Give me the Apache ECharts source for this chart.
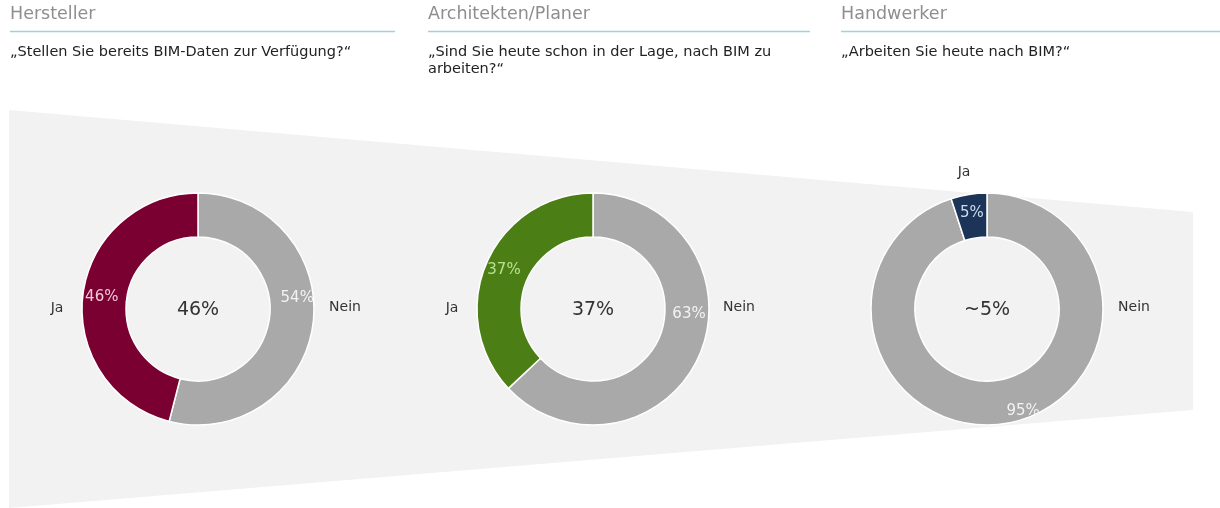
<!DOCTYPE html>
<html><head><meta charset="utf-8">
<script src="https://cdn.jsdelivr.net/npm/echarts@6/dist/echarts.min.js"></script>
<style>html,body{margin:0;padding:0;background:#fff}#c{width:1220px;height:508px}</style>
</head><body><div id="c"></div>
<script>
const groups = ['Hersteller', 'Architekten/Planer', 'Handwerker'];
const questions = ['„Stellen Sie bereits BIM-Daten zur Verfügung?“', '„Sind Sie heute schon in der Lage, nach BIM zu arbeiten?“', '„Arbeiten Sie heute nach BIM?“'];
const categories = ['Nein', 'Ja'];
const neinValues = [54, 63, 95];
const jaValues = [46, 37, 5];
const centerLabels = ['46%', '37%', '~5%'];
const jaColors = ['#7b0032', '#4b7f16', '#1b3457'];
const jaLabelColors = ['#f1c9d6', '#b8e08e', '#cfdcf0'];

const FONT = 'DejaVu Sans';
const centersX = [198, 593, 987];
const cy = 309;
const headX = [10, 428, 841];
const headEnd = [395, 810, 1220];
const neinOffsets = [[3, -23], [7, -33], [21, 6]];
const jaPos = [[57, 308], [452, 308], [964, 172]];
const neinPos = [[345, 307], [739, 307], [1134, 307]];

const chart = echarts.init(document.getElementById('c'), null, {renderer: 'canvas'});
const graphic = [{
  type: 'polygon', z: -10,
  shape: {points: [[9, 110], [1193, 212], [1193, 410], [9, 508]]},
  style: {fill: '#f2f2f2'}
}];
const series = [];
groups.forEach((g, i) => {
  graphic.push({type: 'text', x: headX[i], y: 5, style: {text: g, font: '17.5px ' + FONT, fill: '#8e8e8e'}});
  graphic.push({type: 'line', shape: {x1: headX[i], y1: 31.5, x2: headEnd[i], y2: 31.5}, style: {stroke: '#9cd2e2', lineWidth: 1.5}});
  graphic.push({type: 'text', x: headX[i], y: 44, style: {text: questions[i], font: '14.5px ' + FONT, fill: '#222', width: 388, overflow: 'break', lineHeight: 16.5}});
  graphic.push({type: 'text', x: jaPos[i][0], y: jaPos[i][1], style: {text: categories[1], font: '14px ' + FONT, fill: '#333', align: 'center', verticalAlign: 'middle'}});
  graphic.push({type: 'text', x: neinPos[i][0], y: neinPos[i][1], style: {text: categories[0], font: '14px ' + FONT, fill: '#333', align: 'center', verticalAlign: 'middle'}});
  graphic.push({type: 'text', x: centersX[i], y: cy + 1, style: {text: centerLabels[i], font: '19px ' + FONT, fill: '#333', align: 'center', verticalAlign: 'middle'}});
  series.push({
    type: 'pie', center: [centersX[i], cy], radius: [72, 116], startAngle: 90, clockwise: true,
    silent: true, animation: false,
    itemStyle: {borderColor: '#fff', borderWidth: 1.5},
    label: {show: true, position: 'inside', formatter: '{c}%', fontFamily: FONT, fontSize: 15},
    labelLine: {show: false},
    data: [
      {name: categories[0], value: neinValues[i], itemStyle: {color: '#a9a9a9'}, label: {color: '#f3f3f3', offset: neinOffsets[i]}},
      {name: categories[1], value: jaValues[i], itemStyle: {color: jaColors[i]}, label: {color: jaLabelColors[i]}}
    ]
  });
});
chart.setOption({animation: false, graphic: graphic, series: series});
</script></body></html>
